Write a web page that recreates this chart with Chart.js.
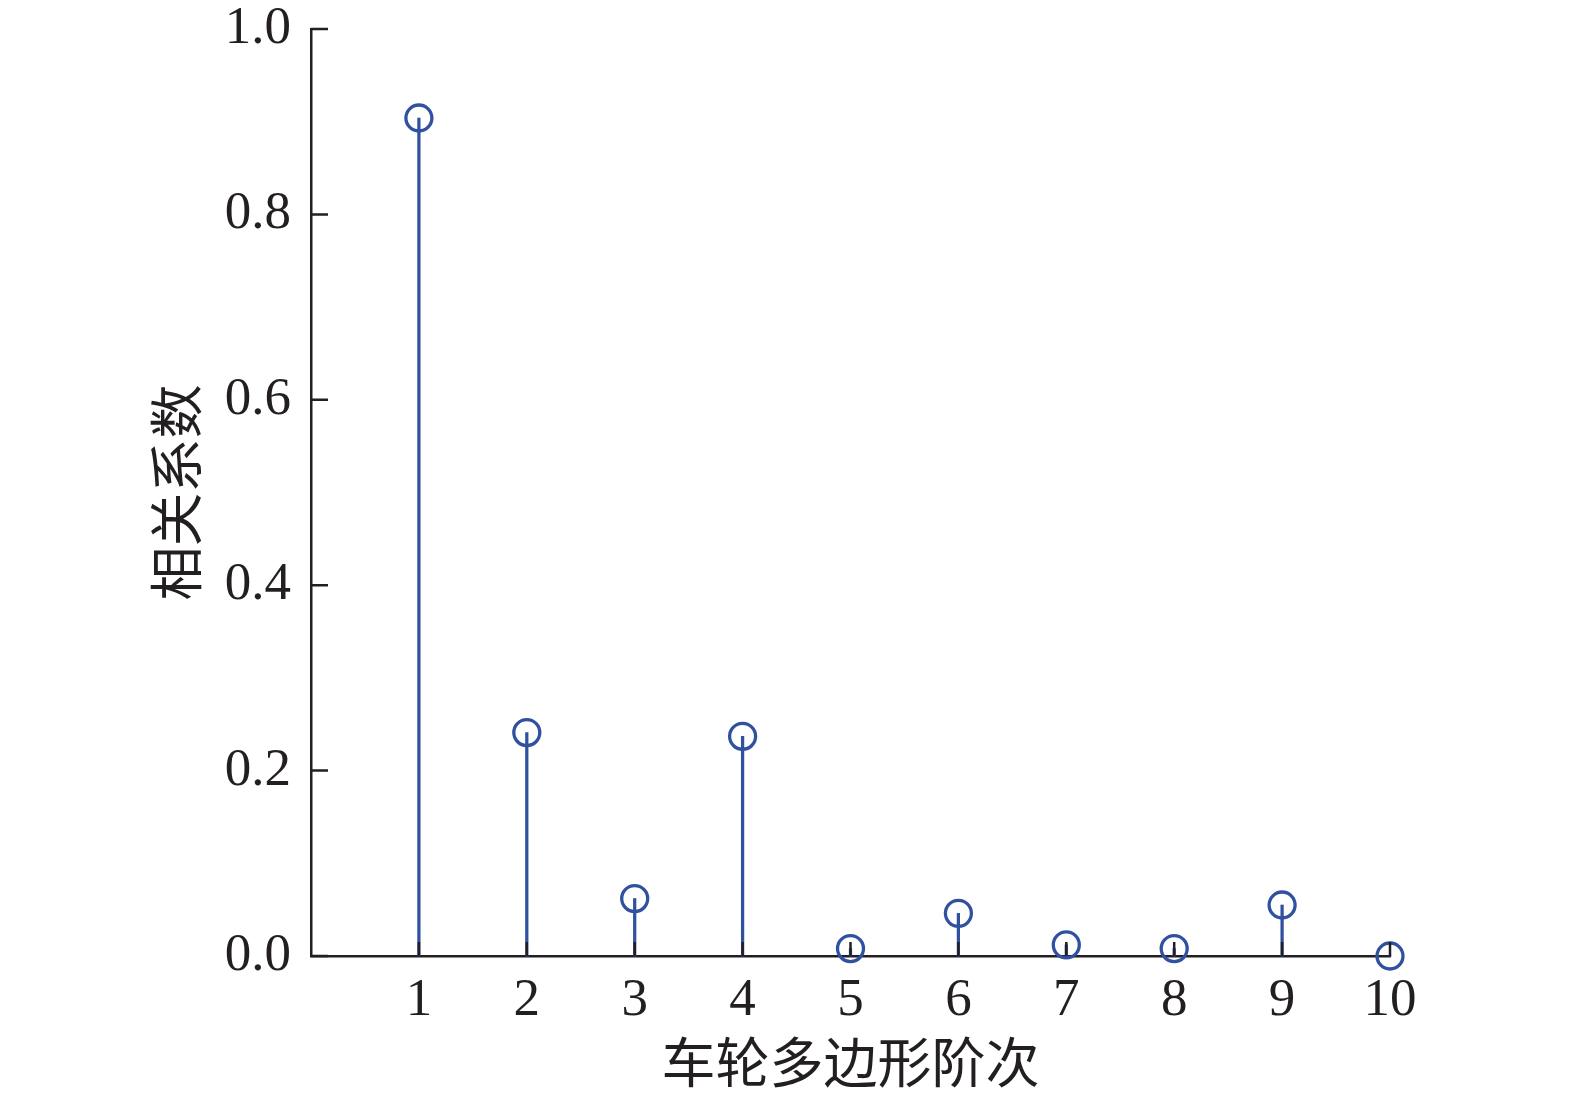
<!DOCTYPE html>
<html>
<head>
<meta charset="utf-8">
<script src="https://cdn.jsdelivr.net/npm/chart.js@4/dist/chart.umd.min.js"></script>
<style>
  html, body { margin: 0; padding: 0; background: #fff; }
  #wrap { width: 1575px; height: 1101px; }
</style>
</head>
<body>
<div id="wrap"><canvas id="stemChart" width="1575" height="1101"></canvas></div>
<script>
const orders = [1, 2, 3, 4, 5, 6, 7, 8, 9, 10];
const coeffs = [0.904, 0.241, 0.062, 0.237, 0.008, 0.046, 0.012, 0.008, 0.055, 0.0];
const yTicks = [0, 0.2, 0.4, 0.6, 0.8, 1.0];
const xTitle = '车轮多边形阶次';
const yTitle = '相关系数';

const blue = '#3050a0';
const black = '#231f20';
const numFont = { family: '"Liberation Serif", "Times New Roman", serif', size: 53 };
const cjkFont = { family: '"Liberation Serif", "Noto Sans CJK SC", serif', size: 54 };

const points = orders.map((x, i) => ({ x: x, y: coeffs[i] }));

// tick marks pointing into the plot, drawn over the stems
const inwardTicks = {
  id: 'inwardTicks',
  afterDatasetsDraw(chart) {
    const ctx = chart.ctx;
    const xs = chart.scales.x, ys = chart.scales.y;
    ctx.save();
    ctx.strokeStyle = black;
    ctx.lineWidth = 2.5;
    ctx.beginPath();
    orders.forEach(v => {
      const px = xs.getPixelForValue(v);
      ctx.moveTo(px, ys.bottom);
      ctx.lineTo(px, ys.bottom - 14);
    });
    yTicks.forEach(v => {
      const py = ys.getPixelForValue(v);
      ctx.moveTo(xs.left, py);
      ctx.lineTo(xs.left + 17, py);
    });
    ctx.stroke();
    ctx.restore();
  }
};

new Chart(document.getElementById('stemChart'), {
  data: {
    datasets: [
      {
        type: 'bar',
        data: points,
        backgroundColor: blue,
        barThickness: 2.6,
        clip: false,
        order: 2
      },
      {
        type: 'scatter',
        data: points,
        pointStyle: 'circle',
        pointRadius: 13,
        pointBorderWidth: 3.3,
        pointBorderColor: blue,
        pointBackgroundColor: 'rgba(0,0,0,0)',
        clip: false,
        order: 1
      }
    ]
  },
  options: {
    responsive: false,
    animation: false,
    layout: { padding: { left: 0, top: 29, right: 185, bottom: 0 } },
    plugins: { legend: { display: false }, tooltip: { enabled: false } },
    scales: {
      x: {
        type: 'linear',
        min: 0,
        max: 10,
        offset: false,
        grid: { display: false, drawTicks: false },
        border: { display: true, color: black, width: 2.5 },
        afterBuildTicks: s => { s.ticks = orders.map(v => ({ value: v })); },
        afterFit: s => { s.height = 1101 - 956; s.paddingLeft = 0; s.paddingRight = 0; },
        ticks: {
          color: black,
          font: numFont,
          padding: 13,
          maxRotation: 0,
          callback: v => String(v)
        },
        title: {
          display: true,
          text: xTitle,
          color: black,
          font: cjkFont,
          padding: { top: 0, bottom: 0 }
        }
      },
      y: {
        type: 'linear',
        min: 0,
        max: 1,
        grid: { display: false, drawTicks: false },
        border: { display: true, color: black, width: 2.5 },
        afterBuildTicks: s => { s.ticks = yTicks.map(v => ({ value: v })); },
        afterFit: s => { s.width = 311; s.paddingTop = 0; s.paddingBottom = 0; },
        ticks: {
          color: black,
          font: numFont,
          padding: 20,
          callback: v => v.toFixed(1)
        },
        title: {
          display: true,
          text: yTitle,
          color: black,
          font: cjkFont,
          padding: { top: 150, bottom: 0 }
        }
      }
    }
  },
  plugins: [inwardTicks]
});
</script>
</body>
</html>
